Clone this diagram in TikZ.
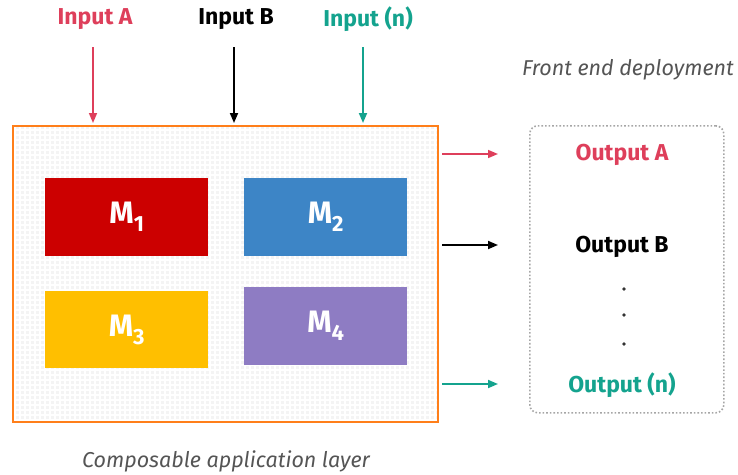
\documentclass[tikz,border=0pt]{standalone}
\usepackage{fontspec}
\setmainfont{Fira Sans}
\usetikzlibrary{arrows.meta}
\definecolor{cred}{HTML}{DE3F5B}
\definecolor{cteal}{HTML}{14A38E}
\definecolor{corange}{HTML}{FF7F1A}
\definecolor{mone}{HTML}{CC0000}
\definecolor{mtwo}{HTML}{3D85C6}
\definecolor{mthree}{HTML}{FFBF00}
\definecolor{mfour}{HTML}{8E7CC3}
\definecolor{cgray}{HTML}{555555}
\tikzset{
  lbl/.style={font=\bfseries\fontsize{23}{23}\selectfont, inner sep=0pt},
  captxt/.style={font=\itshape\fontsize{21.5}{21.5}\selectfont, text=cgray, inner sep=0pt},
  mod/.style={draw=none, inner sep=0pt, text=white, font=\bfseries},
  arr/.style={-{Triangle[length=10pt,width=8pt]}, line width=1.8pt},
}
\newcommand{\modlabel}[1]{{\fontsize{31}{31}\selectfont M}\raisebox{-8pt}{\fontsize{22}{22}\selectfont #1}}
\begin{document}
\begin{tikzpicture}[x=1pt,y=-1pt]
\useasboundingbox (0,0) rectangle (738,474);
% background of layer
\fill[gray!9] (12,125) rectangle (437,421);
\begin{scope}
\clip (12,125) rectangle (437,421);
\draw[white, line width=1.5pt, step=5pt] (12,125) grid (437,421);
\end{scope}
\node[draw=corange, line width=2pt, minimum width=425pt, minimum height=296pt, inner sep=0pt, anchor=north west] (layer) at (12,125) {};
% modules
\node[mod, fill=mone, minimum width=163pt, minimum height=78pt, anchor=north west] (m1) at (45,178) {\modlabel{1}};
\node[mod, fill=mtwo, minimum width=163pt, minimum height=78pt, anchor=north west] (m2) at (244,178) {\modlabel{2}};
\node[mod, fill=mthree, minimum width=163pt, minimum height=77pt, anchor=north west] (m3) at (45,291) {\modlabel{3}};
\node[mod, fill=mfour, minimum width=163pt, minimum height=78pt, anchor=north west] (m4) at (244,287) {\modlabel{4}};
% inputs
\node[lbl, text=cred] (ina) at (95,19) {Input A};
\node[lbl, text=black] (inb) at (236,19) {Input B};
\node[lbl, text=cteal] (inn) at (368,19) {Input (n)};
\coordinate (sa) at (93,47); \coordinate (ea) at (93,123);
\coordinate (sb) at (234,47); \coordinate (eb) at (234,123);
\coordinate (sn) at (363,47); \coordinate (en) at (363,123);
\draw[arr, cred, line width=1.5pt] (sa) -- (ea);
\draw[arr, black] (sb) -- (eb);
\draw[arr, cteal] (sn) -- (en);
% deployment box
\node[draw=gray!70, dotted, line width=1.6pt, rounded corners=8pt, minimum width=194pt, minimum height=287pt, inner sep=0pt, anchor=north west] (front) at (529,125) {};
\node[lbl, text=cred] (outa) at (622,155) {Output A};
\node[lbl, text=black] (outb) at (622,247) {Output B};
\node[lbl, text=cteal] (outn) at (622,385) {Output (n)};
\fill[black!80] (624,289) circle (1.8pt) (624,315) circle (1.8pt) (624,344) circle (1.8pt);
\coordinate (oa) at (442,154); \coordinate (ob) at (442,245); \coordinate (on) at (442,384);
\coordinate (ta) at (498,154); \coordinate (tb) at (498,245); \coordinate (tn) at (498,384);
\draw[arr, cred, line width=1.5pt] (oa) -- (ta);
\draw[arr, black] (ob) -- (tb);
\draw[arr, cteal] (on) -- (tn);
% captions
\node[captxt, anchor=east] (fcap) at (734,70) {Front end deployment};
\node[captxt] (lcap) at (226,461) {Composable application layer};
\end{tikzpicture}
\end{document}
